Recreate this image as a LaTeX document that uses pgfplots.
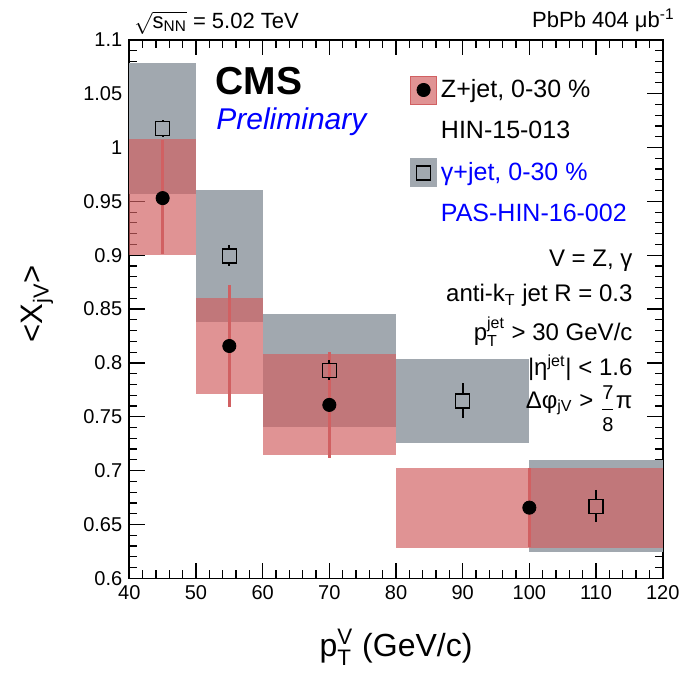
\documentclass[border=0pt]{standalone}
\usepackage{fontspec}
\setmainfont{Liberation Sans}
\usepackage{amsmath}
\usepackage{pgfplots}
\pgfplotsset{compat=1.18}
\definecolor{zred}{RGB}{209,96,98}
\definecolor{ggray}{RGB}{161,168,175}
\definecolor{rblue}{RGB}{0,0,255}
\begin{document}
\begin{tikzpicture}
\begin{axis}[
  name=ax, at={(0,0)}, anchor=south west,
  scale only axis, width=266.7pt, height=269.25pt,
  xmin=40, xmax=120, ymin=0.6, ymax=1.1,
  clip=false,
  xtick={40,50,...,120},
  ytick={0.6,0.65,0.7,0.75,0.8,0.85,0.9,0.95,1,1.05,1.1},
  minor x tick num=4, minor y tick num=4,
  major tick length=7.8pt, minor tick length=4pt,
  tick align=inside,
  every tick/.style={black, line width=0.6pt},
  axis line style={line width=0.8pt},
  tick label style={font=\fontsize{10}{12}\selectfont},
  /pgf/number format/assume math mode=true,
  unbounded coords=jump,
  every axis x label/.style={at={(axis description cs:0.5,-0.146)}, anchor=base, font=\fontsize{16}{19}\selectfont},
  every axis y label/.style={at={(axis description cs:-0.162,0.51)}, rotate=90, anchor=base, font=\fontsize{15.5}{18}\selectfont},
  xlabel={p$_{\text{T}}^{\text{V}}$ (GeV/c)},
  ylabel={<X$_{\text{jV}}$>},
  legend style={at={(axis description cs:0.5146,0.942)}, anchor=north west, draw=none, fill=none,
    font=\fontsize{12.5}{15}\selectfont, row sep=6.3pt},
  legend cell align=left,
]
% gamma+jet systematic boxes
\addplot[draw=none, fill=ggray, forget plot] coordinates {(40,0.9565)(50,0.9565)(50,1.078)(40,1.078)};
\addplot[draw=none, fill=ggray, forget plot] coordinates {(50,0.838)(60,0.838)(60,0.961)(50,0.961)};
\addplot[draw=none, fill=ggray, forget plot] coordinates {(60,0.7408)(80,0.7408)(80,0.8457)(60,0.8457)};
\addplot[draw=none, fill=ggray, forget plot] coordinates {(80,0.7259)(100,0.7259)(100,0.8033)(80,0.8033)};
\addplot[draw=none, fill=ggray, forget plot] coordinates {(100,0.6247)(120,0.6247)(120,0.7098)(100,0.7098)};
% Z+jet systematic boxes
\addplot[draw=none, fill=zred, fill opacity=0.68, forget plot] coordinates {(40,0.9003)(50,0.9003)(50,1.0075)(40,1.0075)};
\addplot[draw=none, fill=zred, fill opacity=0.68, forget plot] coordinates {(50,0.7708)(60,0.7708)(60,0.8606)(50,0.8606)};
\addplot[draw=none, fill=zred, fill opacity=0.68, forget plot] coordinates {(60,0.7145)(80,0.7145)(80,0.808)(60,0.808)};
\addplot[draw=none, fill=zred, fill opacity=0.68, forget plot] coordinates {(80,0.6284)(120,0.6284)(120,0.7027)(80,0.7027)};
% Z+jet statistical errors
\addplot[draw=none, forget plot, error bars/.cd, y dir=both, y explicit,
  error bar style={zred, line width=1.5pt}, error mark=none]
  coordinates {(45,0.953) += (0,0.0539) -= (0,0.0522)
               (55,0.8157) += (0,0.0566) -= (0,0.0569)
               (70,0.761) += (0,0.0494) -= (0,0.0496)
               (100,0.6656) += (0,0.0364) -= (0,0.0366)};
\addplot[only marks, mark=*, mark size=3.3pt, black, forget plot]
  coordinates {(45,0.953)(55,0.8157)(70,0.761)(100,0.6656)};
% gamma+jet statistical errors (outside the open marker)
\addplot[black, line width=1pt, forget plot] coordinates {
  (45,1.0255)(45,1.0240)(45,nan)(45,1.0110)(45,1.0095)(45,nan)
  (55,0.9095)(55,0.9059)(55,nan)(55,0.8929)(55,0.8900)(55,nan)
  (70,0.8027)(70,0.7996)(70,nan)(70,0.7866)(70,0.7841)(70,nan)
  (90,0.7810)(90,0.7713)(90,nan)(90,0.7583)(90,0.7486)(90,nan)
  (110,0.6820)(110,0.6730)(110,nan)(110,0.6600)(110,0.6526)};
\addplot[only marks, mark=square, mark size=3.5pt, mark options={black, line width=0.75pt}, forget plot]
  coordinates {(45,1.0175)(55,0.8994)(70,0.7931)(90,0.7648)(110,0.6665)};
% legend
\addlegendimage{legend image code/.code={\fill[zred, fill opacity=0.68] (0pt,-7pt) rectangle (13pt,7pt); \fill[black] (6.5pt,0pt) circle (3.3pt);}}
\addlegendentry{Z+jet, 0-30 \%}
\addlegendimage{empty legend}
\addlegendentry{HIN-15-013}
\addlegendimage{legend image code/.code={\fill[ggray] (0pt,-7pt) rectangle (13pt,7pt); \draw[black, line width=0.75pt] (3pt,-3.5pt) rectangle (10pt,3.5pt);}}
\addlegendentry{\textcolor{rblue}{γ+jet, 0-30 \%}}
\addlegendimage{empty legend}
\addlegendentry{\textcolor{rblue}{PAS-HIN-16-002}}
% texts
\node[anchor=base west, inner sep=0pt, font=\fontsize{19.5}{22}\selectfont\bfseries] at (axis description cs:0.1607,0.8975) {CMS};
\node[anchor=base west, inner sep=0pt, font=\fontsize{15}{18}\selectfont\itshape, text=rblue] at (axis description cs:0.1625,0.8325) {Preliminary};
\node[anchor=base west, inner sep=0pt, font=\fontsize{11}{13}\selectfont] at (axis description cs:0.0088,1.0213) {$\sqrt{\text{s}_{\text{NN}}}$ = 5.02 TeV};
\node[anchor=base east, inner sep=0pt, font=\fontsize{11}{13}\selectfont] at (axis description cs:1.023,1.0237) {PbPb 404 μb$^{\text{-1}}$};
\node[anchor=base east, inner sep=0pt, font=\fontsize{12}{14}\selectfont] at (axis description cs:0.944,0.5786) {V = Z, γ};
\node[anchor=base east, inner sep=0pt, font=\fontsize{12}{14}\selectfont] at (axis description cs:0.944,0.5136) {anti-k$_{\text{T}}$ jet R = 0.3};
\node[anchor=base east, inner sep=0pt, font=\fontsize{12}{14}\selectfont] at (axis description cs:0.944,0.4425) {p$_{\text{T}}^{\text{jet}}$ > 30 GeV/c};
\node[anchor=base east, inner sep=0pt, font=\fontsize{12}{14}\selectfont] at (axis description cs:0.944,0.3775) {|η$^{\text{jet}}$| < 1.6};
\node[anchor=base east, inner sep=0pt, font=\fontsize{12}{14}\selectfont] at (axis description cs:0.944,0.3157) {Δφ$_{\text{jV}}$ > \raisebox{-3.5pt}{$\dfrac{\text{\fontsize{10}{10}\selectfont 7}}{\text{\fontsize{10}{10}\selectfont 8}}$}π};
\end{axis}
\pgfresetboundingbox
\useasboundingbox (-64.65pt,-48.35pt) rectangle (279.35pt,289.15pt);
\end{tikzpicture}
\end{document}
